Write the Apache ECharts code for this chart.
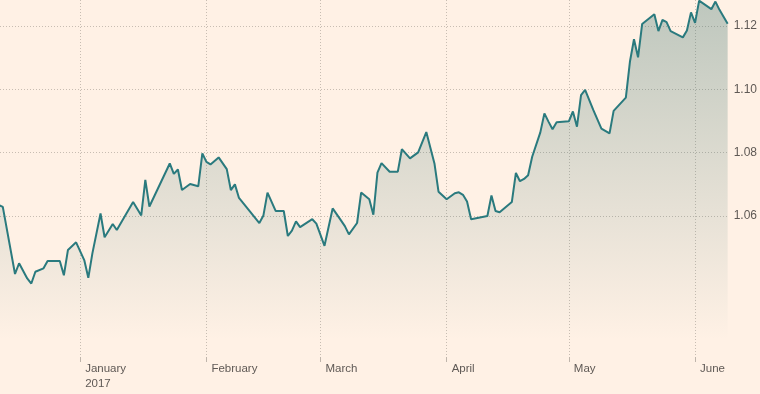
<!DOCTYPE html>
<html>
<head>
<meta charset="utf-8">
<script src="https://cdn.jsdelivr.net/npm/echarts@6/dist/echarts.min.js"></script>
<style>
html,body{margin:0;padding:0;background:#fff1e5;}
#c{width:760px;height:394px;}
</style>
</head>
<body>
<div id="c"></div>
<script>
const dates = [
'2016-12-12','2016-12-13','2016-12-16','2016-12-17','2016-12-19','2016-12-20','2016-12-21','2016-12-23','2016-12-24','2016-12-27',
'2016-12-28','2016-12-29','2016-12-31','2017-01-02','2017-01-03','2017-01-04','2017-01-06','2017-01-07','2017-01-09','2017-01-10',
'2017-01-14','2017-01-16','2017-01-17','2017-01-18','2017-01-23','2017-01-24','2017-01-25','2017-01-26','2017-01-28','2017-01-30',
'2017-01-31','2017-02-01','2017-02-02','2017-02-04','2017-02-06','2017-02-07','2017-02-08','2017-02-09','2017-02-14','2017-02-15',
'2017-02-16','2017-02-18','2017-02-20','2017-02-21','2017-02-22','2017-02-23','2017-02-24','2017-02-27','2017-02-28','2017-03-02',
'2017-03-04','2017-03-06','2017-03-07','2017-03-08','2017-03-10','2017-03-11','2017-03-13','2017-03-14','2017-03-15','2017-03-16',
'2017-03-18','2017-03-20','2017-03-21','2017-03-23','2017-03-25','2017-03-27','2017-03-29','2017-03-30','2017-04-01','2017-04-03',
'2017-04-04','2017-04-05','2017-04-06','2017-04-07','2017-04-11','2017-04-12','2017-04-13','2017-04-14','2017-04-17','2017-04-18',
'2017-04-19','2017-04-20','2017-04-21','2017-04-22','2017-04-24','2017-04-25','2017-04-26','2017-04-27','2017-04-28','2017-05-01',
'2017-05-02','2017-05-03','2017-05-04','2017-05-05','2017-05-07','2017-05-09','2017-05-11','2017-05-12','2017-05-15','2017-05-16',
'2017-05-17','2017-05-18','2017-05-19','2017-05-22','2017-05-23','2017-05-24','2017-05-25','2017-05-26','2017-05-29','2017-05-30',
'2017-05-31','2017-06-01','2017-06-02','2017-06-05','2017-06-06','2017-06-07','2017-06-09'
];
const values = [
1.0635,1.0629,1.0417,1.0451,1.0403,1.0387,1.0424,1.0435,1.0458,1.0458,
1.0413,1.0493,1.0517,1.0461,1.0405,1.0482,1.0608,1.0533,1.0575,1.0556,
1.0644,1.0602,1.0714,1.0630,1.0766,1.0733,1.0747,1.0682,1.0701,1.0694,
1.0798,1.0771,1.0763,1.0785,1.0748,1.0682,1.0700,1.0657,1.0578,1.0602,
1.0674,1.0616,1.0616,1.0537,1.0554,1.0583,1.0565,1.0590,1.0576,1.0506,
1.0624,1.0587,1.0568,1.0542,1.0578,1.0674,1.0653,1.0604,1.0737,1.0767,
1.0740,1.0740,1.0811,1.0782,1.0801,1.0865,1.0766,1.0677,1.0653,1.0672,
1.0675,1.0667,1.0646,1.0590,1.0600,1.0665,1.0616,1.0612,1.0644,1.0736,
1.0710,1.0717,1.0729,1.0787,1.0864,1.0924,1.0898,1.0874,1.0896,1.0899,
1.0930,1.0882,1.0982,1.0998,1.0935,1.0876,1.0861,1.0932,1.0974,1.1087,
1.1158,1.1101,1.1206,1.1237,1.1184,1.1219,1.1212,1.1184,1.1164,1.1186,
1.1243,1.1210,1.1280,1.1253,1.1277,1.1251,1.1207
];
const monthTicks = ['2017-01-01','2017-02-01','2017-03-01','2017-04-01','2017-05-01','2017-06-01'];
const monthNames = ['January','February','March','April','May','June','July','August','September','October','November','December'];
const yTicks = [1.06, 1.08, 1.10, 1.12];

function ts(s){ const p = s.split('-').map(Number); return Date.UTC(p[0], p[1]-1, p[2]); }

const seriesData = dates.map((d,i)=>[ts(d), values[i]]);
const monthTs = monthTicks.map(ts);

const FONT = '"Liberation Sans",Arial,sans-serif';
const chart = echarts.init(document.getElementById('c'), null, {renderer:'canvas'});
chart.setOption({
  backgroundColor: '#fff1e5',
  animation: false,
  grid: {left: 0, right: 31, top: 0, bottom: 37, containLabel: false},
  xAxis: {
    type: 'value',
    min: ts('2016-12-12') + 7.5*3600*1000,
    max: ts('2017-06-09'),
    axisLine: {show: false},
    axisTick: {show: true, length: 5, customValues: monthTs, lineStyle: {color: '#bfb5ab', width: 1}},
    axisLabel: {
      customValues: monthTs,
      align: 'left',
      margin: 4,
      padding: [0,0,0,5],
      color: '#5f5955',
      fontSize: 11.5,
      lineHeight: 15,
      fontFamily: FONT,
      formatter: function(v){
        const d = new Date(v);
        const m = monthNames[d.getUTCMonth()];
        return d.getUTCMonth() === 0 ? m + '\n' + d.getUTCFullYear() : m;
      }
    },
    splitLine: {show: true, lineStyle: {color: '#c8bdb2', type: [1,2], width: 1}}
  },
  yAxis: {
    type: 'value',
    position: 'right',
    min: 1.0155,
    max: 1.1282,
    axisLine: {show: false},
    axisTick: {show: false, customValues: yTicks},
    axisLabel: {
      customValues: yTicks,
      margin: 6,
      color: '#5f5955',
      fontSize: 12,
      fontFamily: FONT,
      formatter: function(v){ return v.toFixed(2); }
    },
    splitLine: {show: true, lineStyle: {color: '#c8bdb2', type: [1,2], width: 1}}
  },
  series: [{
    type: 'line',
    data: seriesData,
    showSymbol: false,
    symbol: 'none',
    lineStyle: {color: '#2a7a7e', width: 2},
    areaStyle: {
      origin: 'start',
      color: {
        type: 'linear', x: 0, y: 0, x2: 0, y2: 340, global: true,
        colorStops: [
          {offset: 0, color: 'rgba(52,110,106,0.46)'},
          {offset: 1, color: 'rgba(52,110,106,0.0)'}
        ]
      }
    }
  }]
});
</script>
</body>
</html>
